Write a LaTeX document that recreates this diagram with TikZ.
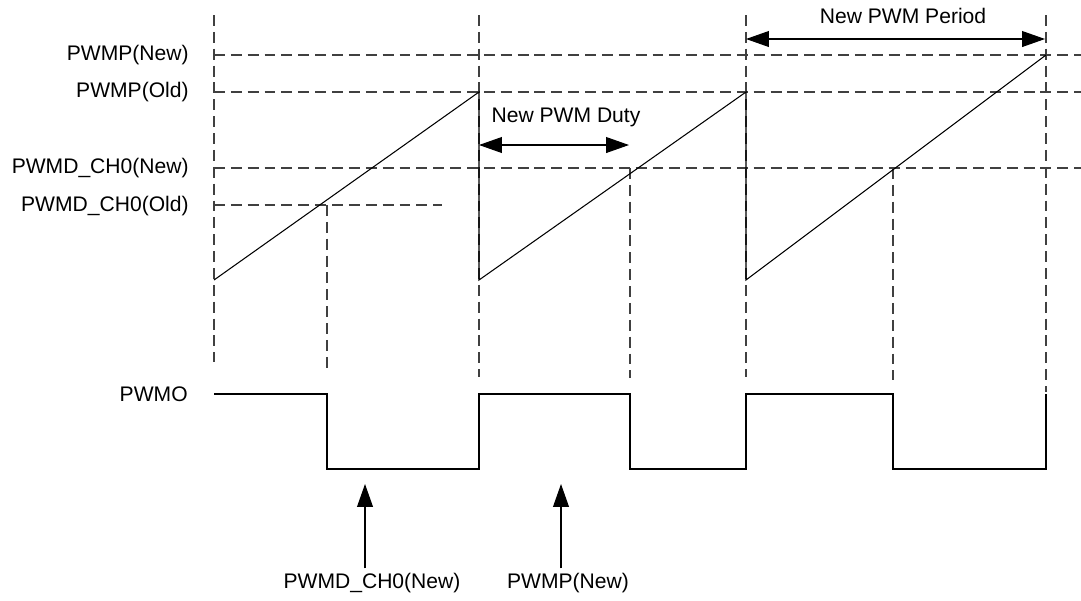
\documentclass[tikz,border=0pt]{standalone}
\usepackage{fontspec}
\setmainfont{Liberation Sans}
\usetikzlibrary{positioning,arrows.meta}

\begin{document}
\begin{tikzpicture}[x=0.02cm,y=-0.02cm,lbl/.style={inner sep=0pt,font=\fontsize{12}{14}\selectfont},dsh/.style={black!75,line width=0.6pt,dash pattern=on 6.2pt off 3.4pt},sig/.style={line width=0.6pt,line join=miter},a/.style={line width=0.6pt,-{Triangle[length=13pt,width=9pt]}},aa/.style={line width=0.6pt,{Triangle[length=13pt,width=9pt]}-{Triangle[length=13pt,width=9pt]}}]
\useasboundingbox (0,0) rectangle (1081,600);
\node[lbl,anchor=east](pnew) at (189,55){PWMP(New)};
\node[lbl,anchor=east](pold) at (189,92){PWMP(Old)};
\node[lbl,anchor=east](dnew) at (189,168){PWMD\_CH0(New)};
\node[lbl,anchor=east](dold) at (189,206){PWMD\_CH0(Old)};
\node[lbl,anchor=east](pwmo) at (188,394){PWMO};
\node[lbl](duty) at (566,117){New PWM Duty};
\node[lbl](period) at (903,16){New PWM Period};
\node[lbl](ldnew) at (372,583){PWMD\_CH0(New)};
\node[lbl](lpnew) at (568,583){PWMP(New)};
\foreach \y/\e in {55/1081,92/1081,168/1081,205/442}\draw[dsh](214,\y)--(\e,\y);
\foreach \x/\t/\b in {214/15/362,327/205/372,479/15/377,630/168/378,746/15/377,893/168/380,1046/15/392}\draw[dsh](\x,\t)--(\x,\b);
\draw[sig](214,280)--(479,92)--(479,280)--(746,92)--(746,280)--(1046,55);
\draw[sig](214,394)--(327,394)--(327,469)--(479,469)--(479,394)--(630,394)--(630,469)--(746,469)--(746,394)--(893,394)--(893,469)--(1046,469)--(1046,394);
\coordinate (d0) at (479,145);\coordinate (d1) at (629,145);
\coordinate (p0) at (746,39);\coordinate (p1) at (1045,39);
\draw[aa](d0)--(d1);
\draw[aa](p0)--(p1);
\coordinate (t1) at (365,484);\coordinate (t2) at (561,484);
\draw[a]([yshift=2.5pt]ldnew.north-|t1)--(t1);
\draw[a]([yshift=2.5pt]lpnew.north-|t2)--(t2);
\end{tikzpicture}
\end{document}
